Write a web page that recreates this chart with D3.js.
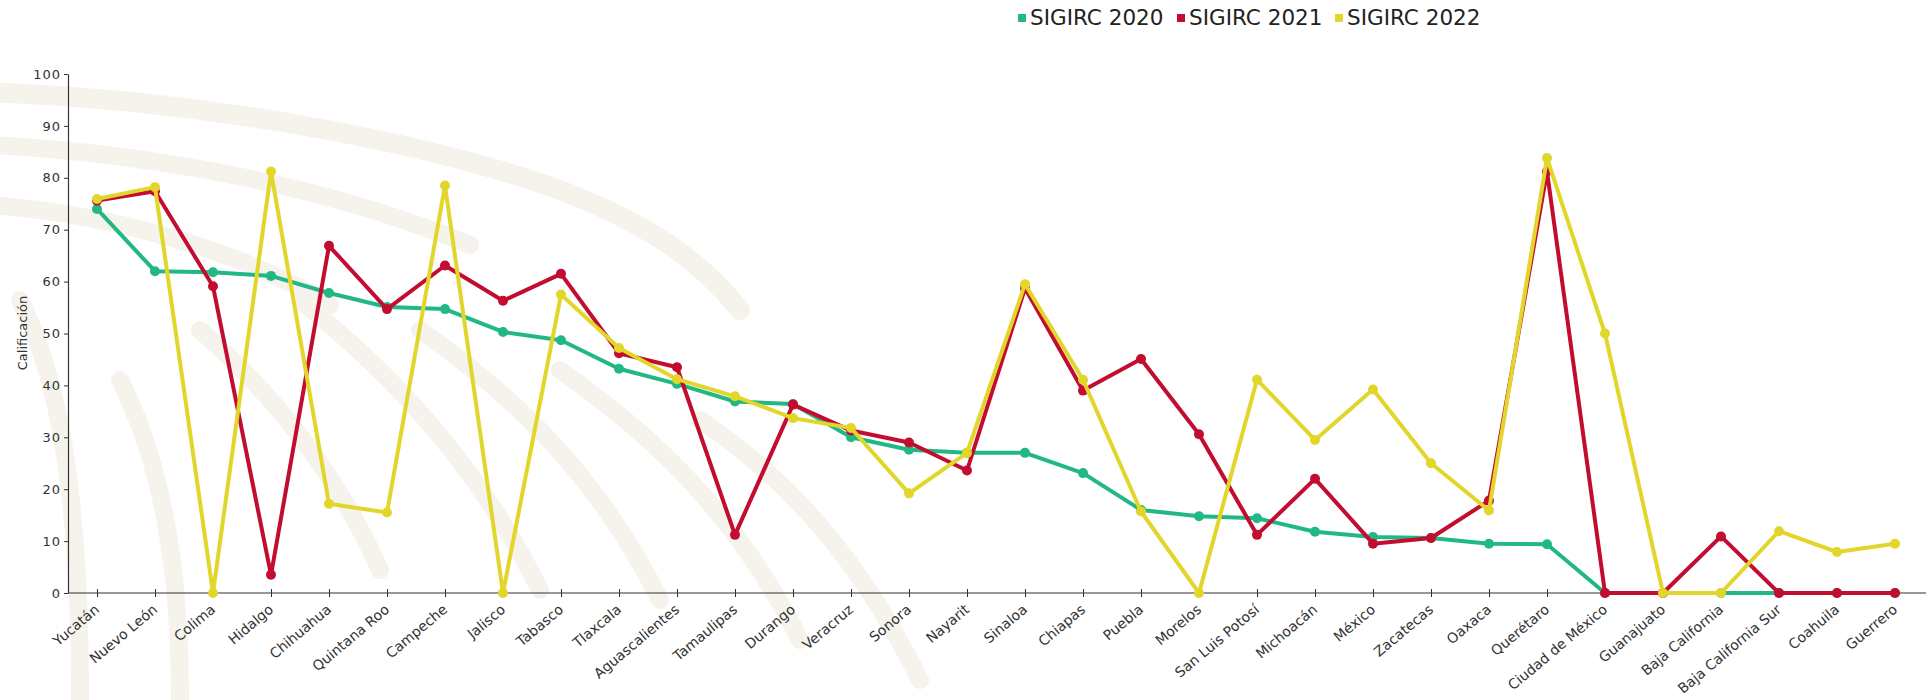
<!DOCTYPE html>
<html>
<head>
<meta charset="utf-8">
<script src="https://cdn.jsdelivr.net/npm/d3@7/dist/d3.min.js"></script>
<style>
  html, body { margin: 0; padding: 0; background: #ffffff; }
  svg { display: block; font-family: "DejaVu Sans", Verdana, sans-serif; }
</style>
</head>
<body>
<svg id="chart" width="1928" height="700"></svg>
<script>
// ---- Data ----
const categories = ["Yucatán","Nuevo León","Colima","Hidalgo","Chihuahua","Quintana Roo","Campeche","Jalisco","Tabasco","Tlaxcala","Aguascalientes","Tamaulipas","Durango","Veracruz","Sonora","Nayarit","Sinaloa","Chiapas","Puebla","Morelos","San Luis Potosí","Michoacán","México","Zacatecas","Oaxaca","Querétaro","Ciudad de México","Guanajuato","Baja California","Baja California Sur","Coahuila","Guerrero"];
const seriesNames = ["SIGIRC 2020","SIGIRC 2021","SIGIRC 2022"];
const sigirc2020 = [74.0,62.0,61.8,61.1,57.8,55.1,54.7,50.3,48.7,43.2,40.3,36.9,36.4,30.0,27.6,27.0,27.0,23.1,16.0,14.8,14.4,11.8,10.8,10.6,9.5,9.4,0,0,0,0,0,0];
const sigirc2021 = [75.6,77.4,59.1,3.5,66.9,54.7,63.1,56.3,61.5,46.2,43.5,11.2,36.3,31.3,29.0,23.6,58.7,39.0,45.1,30.6,11.2,22.0,9.5,10.6,17.8,81.2,0,0,10.9,0,0,0];
const sigirc2022 = [75.9,78.2,0,81.2,17.2,15.5,78.5,0,57.5,47.2,41.2,37.9,33.7,31.8,19.2,27.0,59.5,41.1,15.7,0,41.1,29.5,39.2,25.0,15.9,83.8,50.0,0,0,11.9,7.9,9.5];
const yTicks = [0,10,20,30,40,50,60,70,80,90,100];
const yTitle = "Calificación";
const colors = ["#22b886","#c30d30","#e2d62b"];

const svg = d3.select("#chart");

// ---- faint watermark decoration (background only) ----
const wm = svg.append("g").attr("fill","none").attr("stroke","#f6f3ec").attr("stroke-linecap","round");
const wmPaths = [
  ["M -10,92 C 200,100 420,140 560,190 C 650,225 700,260 740,310", 20],
  ["M -10,145 C 180,155 350,195 470,245", 18],
  ["M -10,205 C 120,215 250,255 330,305", 18],
  ["M 200,330 C 280,400 340,480 380,570", 18],
  ["M 300,300 C 400,380 480,470 540,590", 18],
  ["M 420,330 C 520,400 600,480 660,600", 18],
  ["M 560,370 C 660,440 740,520 800,640", 18],
  ["M 700,420 C 790,480 860,560 920,680", 18],
  ["M 20,300 C 60,380 80,500 80,700", 18],
  ["M 120,380 C 160,460 180,560 180,700", 18]
];
wmPaths.forEach(p => wm.append("path").attr("d", p[0]).attr("stroke-width", p[1]));

// ---- scales ----
const x = d3.scalePoint().domain(categories).range([68, 1924]).padding(0.5);
const y = d3.scaleLinear().domain([0, 100]).range([593, 74]);

// ---- axes ----
const yAxis = svg.append("g").attr("transform","translate(68,0)")
  .call(d3.axisLeft(y).tickValues(yTicks).tickSize(4).tickSizeOuter(0).tickPadding(3));
yAxis.select(".domain").attr("stroke","#333").attr("stroke-width",1.2);
yAxis.selectAll(".tick line").attr("stroke","#333");
yAxis.selectAll(".tick text").attr("fill","#333").style("font-size","13px")
  .style("letter-spacing","1px")
  .style("font-family","'DejaVu Sans', sans-serif");

const xAxis = svg.append("g").attr("transform","translate(0,593)")
  .call(d3.axisBottom(x).tickSize(4).tickSizeOuter(0));
xAxis.select(".domain").attr("stroke","#333").attr("stroke-width",1.2)
  .attr("d","M68,0H1926");
xAxis.selectAll(".tick line").attr("stroke","#333").attr("y1",-4).attr("y2",4);
xAxis.selectAll(".tick text")
  .attr("fill","#333").style("font-size","14px")
  .style("font-family","'DejaVu Sans', sans-serif")
  .attr("text-anchor","end")
  .attr("x", 0).attr("y", 0).attr("dy","0.75em")
  .attr("transform","translate(-4,10) rotate(-40)");

// y-axis title
svg.append("text")
  .attr("transform","translate(27,333) rotate(-90)")
  .attr("text-anchor","middle")
  .attr("fill","#333")
  .style("font-size","13px")
  .text(yTitle);

// ---- lines ----
const allSeries = [sigirc2020, sigirc2021, sigirc2022];
const line = d3.line().x((d,i) => x(categories[i])).y(d => y(d));
allSeries.forEach((vals, k) => {
  const g = svg.append("g");
  g.append("path").datum(vals)
    .attr("fill","none").attr("stroke",colors[k]).attr("stroke-width",4)
    .attr("stroke-linejoin","round").attr("d", line);
  g.selectAll("circle").data(vals).join("circle")
    .attr("cx",(d,i) => x(categories[i])).attr("cy", d => y(d))
    .attr("r",5).attr("fill",colors[k]);
});

// ---- legend ----
const legendX = [1018, 1177, 1335];
seriesNames.forEach((name, k) => {
  svg.append("rect").attr("x", legendX[k]).attr("y", 14).attr("width", 8).attr("height", 8)
    .attr("fill", colors[k]);
  svg.append("text").attr("x", legendX[k] + 12).attr("y", 25)
    .attr("fill","#222").style("font-size","21.5px").text(name);
});
</script>
</body>
</html>
